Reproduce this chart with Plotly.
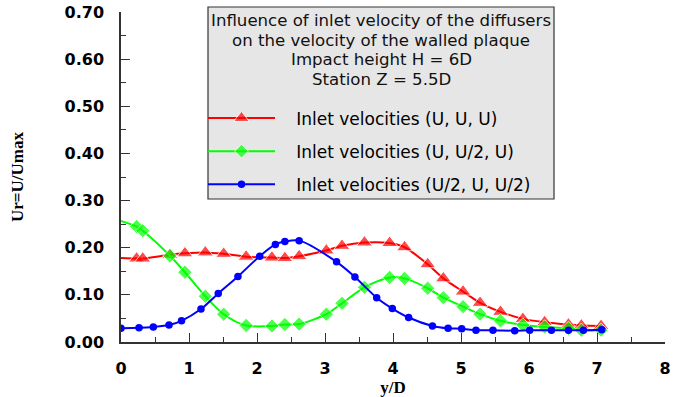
import plotly.graph_objects as go

# ---- data ----
x_red_green = [0, 0.23, 0.32, 0.72, 0.94, 1.24, 1.51, 1.84, 2.22, 2.41, 2.62, 3.02, 3.25,
               3.58, 3.95, 4.17, 4.51, 4.74, 5.03, 5.28, 5.58, 5.91, 6.23, 6.58, 6.77, 7.06]
u_uuu = [0.178, 0.177, 0.177, 0.185, 0.188, 0.190, 0.187, 0.181, 0.179, 0.178, 0.182, 0.194,
         0.204, 0.211, 0.210, 0.201, 0.165, 0.135, 0.107, 0.083, 0.064, 0.049, 0.042, 0.037,
         0.035, 0.034]
u_uhu = [0.257, 0.245, 0.236, 0.183, 0.148, 0.097, 0.059, 0.035, 0.034, 0.037, 0.038, 0.059,
         0.082, 0.116, 0.137, 0.135, 0.114, 0.094, 0.075, 0.059, 0.045, 0.036, 0.032, 0.029,
         0.025, 0.025]
x_blue = [0.0, 0.265, 0.475, 0.706, 0.89, 1.176, 1.43, 1.72, 2.04, 2.27, 2.41, 2.62, 3.17,
          3.44, 3.76, 3.99, 4.23, 4.58, 4.81, 5.01, 5.22, 5.47, 5.79, 6.01, 6.33, 6.58, 6.8, 7.07]
u_huh = [0.029, 0.030, 0.032, 0.036, 0.045, 0.070, 0.103, 0.139, 0.182, 0.207, 0.213, 0.215,
         0.170, 0.138, 0.094, 0.071, 0.052, 0.034, 0.029, 0.028, 0.025, 0.025, 0.024, 0.025,
         0.025, 0.025, 0.025, 0.026]

series_names = ["Inlet velocities (U, U, U)",
                "Inlet velocities (U, U/2, U)",
                "Inlet velocities (U/2, U, U/2)"]
box_title_lines = ["Influence of inlet velocity of the diffusers",
                   "on the velocity of the walled plaque",
                   "Impact height H = 6D",
                   "Station Z = 5.5D"]
x_ticks = [0, 1, 2, 3, 4, 5, 6, 7, 8]
y_ticks = [0.0, 0.1, 0.2, 0.3, 0.4, 0.5, 0.6, 0.7]

# first point of red/green is a line start without a marker
size_tri = [0] + [14] * (len(x_red_green) - 1)
size_dia = [0] + [11] * (len(x_red_green) - 1)

PAD = "\u00a0" * 3
SANS = "DejaVu Sans, Arial"
SERIF = "Times New Roman, Liberation Serif, serif"

# plot area in pixels: x 121..665, y 12..342
PL, PR, PT, PB = 121, 665, 12, 342
def px(x):
    return (x - PL) / (PR - PL)
def py(y):
    return (PB - y) / (PB - PT)

fig = go.Figure()
fig.add_trace(go.Scatter(
    x=x_red_green, y=u_uuu, name=PAD + series_names[0], mode="lines+markers",
    line=dict(color="#ff0000", width=2, shape="spline", smoothing=0.8),
    marker=dict(symbol="triangle-up", size=size_tri, color="#ff0000"),
    legendgroup="a"))
fig.add_trace(go.Scatter(
    x=x_red_green, y=u_uhu, name=PAD + series_names[1], mode="lines+markers",
    line=dict(color="#00ff00", width=2, shape="spline", smoothing=0.8),
    marker=dict(symbol="diamond", size=size_dia, color="#00ff00"),
    legendgroup="b"))
fig.add_trace(go.Scatter(
    x=x_blue, y=u_huh, name=PAD + series_names[2], mode="lines+markers",
    line=dict(color="#0000ff", width=2, shape="spline", smoothing=0.8),
    marker=dict(symbol="circle", size=7.5, color="#0000ff"),
    legendgroup="c"))

# legend box
fig.add_shape(type="rect", xref="paper", yref="paper",
              x0=px(208), x1=px(554), y0=py(199), y1=py(7),
              fillcolor="#e6e6e6", line=dict(color="#333333", width=1.2), layer="below")
for i, line in enumerate(box_title_lines):
    fig.add_annotation(xref="paper", yref="paper", x=px(381), y=py(21 + 19.4 * i),
                       xanchor="center", yanchor="middle", showarrow=False,
                       text=line, font=dict(family=SANS, size=16.6, color="#111111"))

fig.update_layout(
    width=686, height=397,
    margin=dict(l=PL, r=686 - PR, t=PT, b=397 - PB),
    paper_bgcolor="white", plot_bgcolor="white",
    showlegend=True,
    legend=dict(x=px(203), y=py(100.5), xanchor="left", yanchor="top",
                bgcolor="rgba(0,0,0,0)", font=dict(family=SANS, size=17, color="#000000"),
                tracegroupgap=8, itemwidth=67),
    xaxis=dict(range=[0, 8], tickvals=x_ticks, ticks="inside", ticklen=9, tickcolor="#333333",
               showline=True, linecolor="#333333", linewidth=1.5, showgrid=False, zeroline=False,
               automargin=False,
               tickfont=dict(family=SANS, size=16, color="#000000", weight="bold"),
               minor=dict(ticks="inside", dtick=0.5, ticklen=5, tickcolor="#333333"),
               ticklabelstandoff=11,
               title=dict(text="<b>y/D</b>", font=dict(family=SERIF, size=17, color="#000000"),
                          standoff=12)),
    yaxis=dict(range=[0, 0.7], tickvals=y_ticks, tickformat=".2f", ticks="inside", ticklen=9,
               tickcolor="#333333", showline=True, linecolor="#333333", linewidth=1.5,
               showgrid=False, zeroline=False, automargin=False,
               tickfont=dict(family=SANS, size=16, color="#000000", weight="bold"),
               minor=dict(ticks="inside", dtick=0.05, ticklen=5, tickcolor="#333333"),
               ticklabelstandoff=12,
               title=dict(text="<b>Ur=U/Umax</b>", font=dict(family=SERIF, size=17, color="#000000"),
                          standoff=37)),
)

fig.write_html("out.html", config={"displayModeBar": False},
               post_script="document.body.style.margin='0';document.body.style.overflow='hidden';")
